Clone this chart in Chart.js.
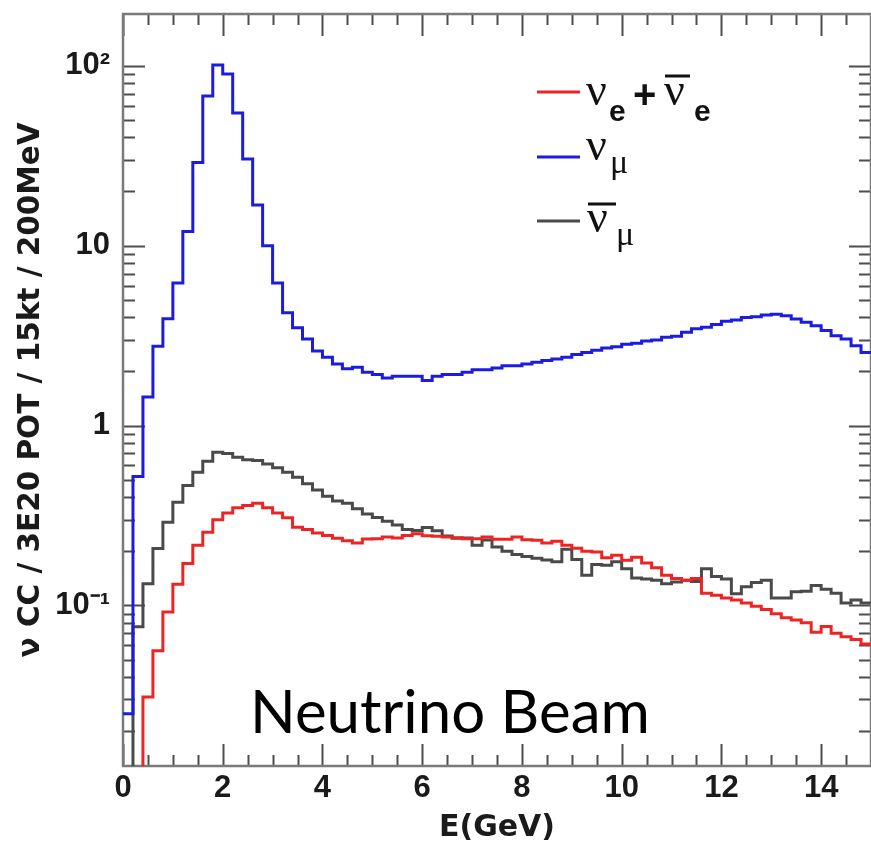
<!DOCTYPE html>
<html><head><meta charset="utf-8">
<script src="https://cdn.jsdelivr.net/npm/chart.js@4/dist/chart.umd.min.js"></script>
<style>html,body{margin:0;padding:0;background:#fff;overflow:hidden;width:871px;height:844px}canvas{display:block}</style>
</head><body>
<canvas id="c" width="872" height="844"></canvas>
<script>
// ---- data (bins of 200 MeV from 0 to 15 GeV) ----
const binWidth = 0.2;
const nBins = 75;
const binEdges = Array.from({length: nBins + 1}, (_, i) => Math.round(i * binWidth * 10) / 10);

const seriesNames = ['νe+ν̄e', 'νμ', 'ν̄μ'];

// nu_e + anti-nu_e (red); 0.001 = empty bin (below axis)
const nueValues = [0.001,0.001,0.031,0.056,0.092,0.131,0.171,0.216,0.255,0.299,
  0.326,0.349,0.359,0.37,0.349,0.326,0.307,0.272,0.264,0.253,
  0.245,0.236,0.229,0.222,0.234,0.235,0.24,0.237,0.245,0.25,
  0.244,0.242,0.24,0.238,0.235,0.235,0.24,0.233,0.233,0.24,
  0.232,0.23,0.222,0.227,0.216,0.208,0.2,0.198,0.184,0.19,
  0.178,0.185,0.172,0.162,0.147,0.141,0.138,0.141,0.117,0.114,
  0.11,0.107,0.103,0.099,0.095,0.09,0.0855,0.083,0.08,0.071,
  0.0763,0.07,0.067,0.0646,0.061];

// nu_mu (blue)
const numuValues = [0.025,0.52,1.44,2.76,3.92,6.2,12.0,29.0,68,101,
  90,54.6,30.3,16.8,10.0,6.2,4.23,3.5,3.03,2.6,
  2.4,2.2,2.07,2.11,1.98,1.92,1.84,1.88,1.88,1.88,
  1.78,1.88,1.92,1.92,1.98,2.04,2.04,2.09,2.15,2.15,
  2.2,2.25,2.3,2.34,2.4,2.48,2.55,2.62,2.7,2.74,
  2.83,2.87,2.95,2.99,3.1,3.14,3.3,3.45,3.52,3.64,
  3.8,3.86,3.98,4.02,4.12,4.15,4.08,3.91,3.75,3.59,
  3.37,3.16,3.03,2.78,2.55];

// anti-nu_mu (gray)
const numubarValues = [0.001,0.076,0.132,0.207,0.29,0.375,0.464,0.55,0.634,0.711,
  0.70,0.667,0.645,0.64,0.612,0.582,0.55,0.516,0.474,0.438,
  0.405,0.38,0.37,0.345,0.322,0.308,0.294,0.28,0.264,0.261,
  0.271,0.26,0.243,0.236,0.237,0.216,0.231,0.211,0.2,0.192,
  0.187,0.183,0.179,0.175,0.205,0.18,0.147,0.169,0.167,0.175,
  0.16,0.142,0.14,0.138,0.132,0.135,0.138,0.136,0.16,0.145,
  0.14,0.116,0.127,0.134,0.138,0.11,0.11,0.119,0.12,0.129,
  0.123,0.117,0.103,0.107,0.103];

const xTicks = [0, 2, 4, 6, 8, 10, 12, 14];
const xMinorStep = 0.5;
const yTicks = [0.1, 1, 10, 100];
const yTickLabels = ['10⁻¹', '1', '10', '10²'];
const xTitle = 'E(GeV)';
const yTitle = 'ν CC / 3E20 POT / 15kt / 200MeV';
const annotation = 'Neutrino Beam';

const colors = ['#ee2424', '#1c1ce0', '#4a4a4a'];

// histogram points at bin low edges, last edge repeats last bin
function histPoints(vals) {
  return binEdges.map((e, i) => ({x: e, y: vals[Math.min(i, vals.length - 1)]}));
}

const frameTicks = {
  id: 'frameTicks',
  beforeDatasetsDraw(chart) {
    const {ctx, chartArea: a, scales: {x, y}} = chart;
    ctx.save();
    ctx.strokeStyle = '#4d4d4d';
    ctx.lineWidth = 2;
    ctx.beginPath();
    for (let v = x.min; v <= x.max + 1e-9; v += xMinorStep) {
      const px = Math.round(x.getPixelForValue(v)) + 0.5;
      const major = xTicks.includes(Math.round(v * 10) / 10);
      const L = major ? 22 : 11;
      ctx.moveTo(px, a.bottom); ctx.lineTo(px, a.bottom - L);
      ctx.moveTo(px, a.top); ctx.lineTo(px, a.top + L);
    }
    for (let d = -2; d <= 2; d++) {
      for (let m = 1; m <= 9; m++) {
        const v = m * Math.pow(10, d);
        if (v < y.min || v > y.max) continue;
        const py = Math.round(y.getPixelForValue(v)) + 0.5;
        const L = m === 1 ? 22 : 12;
        ctx.moveTo(a.left, py); ctx.lineTo(a.left + L, py);
        ctx.moveTo(a.right, py); ctx.lineTo(a.right - L, py);
      }
    }
    ctx.stroke();
    ctx.strokeStyle = '#7a7a7a';
    ctx.lineWidth = 2.5;
    ctx.strokeRect(a.left, a.top, a.right - a.left, a.bottom - a.top);
    ctx.restore();
  },
  afterDraw(chart) {
    const {ctx} = chart;
    ctx.save();
    ctx.textBaseline = 'alphabetic';
    ctx.textAlign = 'left';
    const serif = (s) => s + 'px "Liberation Serif", "DejaVu Serif", serif';
    const sansB = (s) => 'bold ' + s + 'px "Liberation Sans", Arial, sans-serif';
    const sample = (c, yy) => {
      ctx.strokeStyle = c; ctx.lineWidth = 3;
      ctx.beginPath(); ctx.moveTo(537, yy); ctx.lineTo(580, yy); ctx.stroke();
    };
    const bar = (x0, x1, yy) => {
      ctx.strokeStyle = '#111'; ctx.lineWidth = 3;
      ctx.beginPath(); ctx.moveTo(x0, yy); ctx.lineTo(x1, yy); ctx.stroke();
    };
    ctx.fillStyle = '#111';
    // row 1: nu_e + anti-nu_e
    sample(colors[0], 92);
    ctx.font = serif(46); ctx.fillText('ν', 586, 105);
    ctx.font = sansB(30); ctx.fillText('e', 609, 121);
    ctx.font = sansB(40); ctx.fillText('+', 633, 108);
    ctx.font = serif(46); ctx.fillText('ν', 664, 105);
    bar(665, 690, 76);
    ctx.font = sansB(30); ctx.fillText('e', 694, 121);
    // row 2: nu_mu
    sample(colors[1], 157);
    ctx.font = serif(46); ctx.fillText('ν', 586, 160);
    ctx.font = serif(34); ctx.fillText('μ', 610, 173);
    // row 3: anti-nu_mu
    sample(colors[2], 221);
    ctx.font = serif(46); ctx.fillText('ν', 587, 232);
    bar(588, 616, 204);
    ctx.font = serif(34); ctx.fillText('μ', 616, 245);
    // annotation
    ctx.fillStyle = '#000';
    ctx.font = '60px Lato, "Open Sans", sans-serif';
    ctx.fillText(annotation, 250, 733);
    ctx.restore();
  }
};

new Chart(document.getElementById('c'), {
  type: 'line',
  data: {
    datasets: [
      {label: seriesNames[0], data: histPoints(nueValues), borderColor: colors[0]},
      {label: seriesNames[1], data: histPoints(numuValues), borderColor: colors[1]},
      {label: seriesNames[2], data: histPoints(numubarValues), borderColor: colors[2]}
    ].map(d => Object.assign(d, {stepped: 'before', borderWidth: 3, pointRadius: 0, fill: false, tension: 0}))
  },
  options: {
    responsive: false,
    animation: false,
    events: [],
    devicePixelRatio: 1,
    layout: {padding: {top: 14, right: 1, bottom: 0, left: 0}},
    plugins: {legend: {display: false}, tooltip: {enabled: false}},
    scales: {
      x: {
        type: 'linear', min: 0, max: 15,
        afterBuildTicks: (s) => { s.ticks = xTicks.map(v => ({value: v})); },
        afterFit: (s) => { s.height = 78; s.paddingLeft = 0; s.paddingRight = 0; s.paddingTop = 0; s.paddingBottom = 0; },
        grid: {display: false, drawTicks: false},
        border: {display: false},
        ticks: {padding: 7, color: '#1a1a1a', font: {family: '"Liberation Sans", Arial, sans-serif', size: 31, weight: 'bold', lineHeight: 1}, maxRotation: 0, autoSkip: false},
        title: {display: true, text: xTitle, color: '#1a1a1a', padding: {top: 0, bottom: 1}, font: {family: '"DejaVu Sans", sans-serif', size: 30, weight: 'bold', lineHeight: 1}}
      },
      y: {
        type: 'logarithmic', min: 0.0128, max: 194,
        afterBuildTicks: (s) => { s.ticks = yTicks.map(v => ({value: v})); },
        afterFit: (s) => { s.width = 123; s.paddingTop = 0; s.paddingBottom = 0; s.paddingLeft = 0; s.paddingRight = 0; },
        grid: {display: false, drawTicks: false},
        border: {display: false},
        ticks: {padding: 13, color: '#1a1a1a', autoSkip: false,
          font: {family: '"Liberation Sans", Arial, sans-serif', size: 31, weight: 'bold', lineHeight: 1},
          callback: (v) => { const i = yTicks.indexOf(v); return i >= 0 ? yTickLabels[i] : ''; }},
        title: {display: true, text: yTitle, color: '#1a1a1a', padding: {top: 17, bottom: 0}, font: {family: '"DejaVu Sans", sans-serif', size: 29.5, weight: 'bold', lineHeight: 1}}
      }
    }
  },
  plugins: [frameTicks]
});
</script>
</body></html>
